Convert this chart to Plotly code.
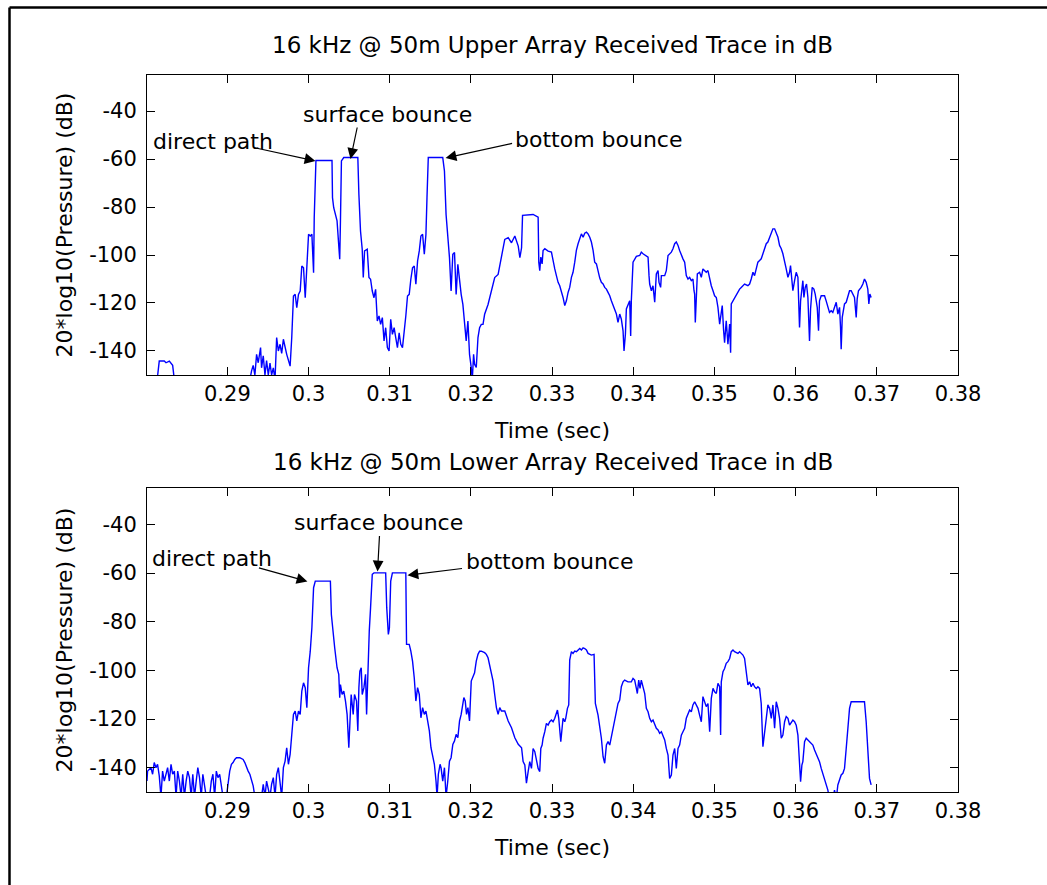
import plotly.graph_objects as go

# ---------------- data ----------------
upper_t = [0.2801, 0.28140, 0.28161, 0.28223, 0.28244, 0.28285, 0.28326, 0.28347,
    0.2890, 0.28926, 0.2895,
    0.29277, 0.29298, 0.29318, 0.29339, 0.29360, 0.29380, 0.29409, 0.29421, 0.29442, 0.29463,
    0.29483, 0.29504, 0.29525, 0.29545, 0.29566, 0.29587, 0.29607, 0.29628, 0.29649, 0.29669,
    0.29690, 0.29731, 0.29773, 0.29793, 0.29814, 0.29835, 0.29855, 0.29876, 0.29897, 0.29917,
    0.29938, 0.29959, 0.29979, 0.30000, 0.30021, 0.30041, 0.30062, 0.30070, 0.30091, 0.30289,
    0.30295, 0.30310, 0.30351, 0.30372, 0.30384, 0.30393, 0.30405, 0.30434, 0.30607, 0.30620,
    0.30640, 0.30661, 0.30674, 0.30690, 0.30723, 0.30744, 0.30764, 0.30785, 0.30806, 0.30826,
    0.30847, 0.30868, 0.30888, 0.30909, 0.30930, 0.30950, 0.30971, 0.30992, 0.31012, 0.31033,
    0.31054, 0.31074, 0.31095, 0.31116, 0.31136, 0.31157, 0.31178, 0.31198, 0.31219, 0.31240,
    0.31260, 0.31281, 0.31302, 0.31322, 0.31343, 0.31364, 0.31384, 0.31405, 0.31426, 0.31446,
    0.31459, 0.31475, 0.31653, 0.31674, 0.31694, 0.31715, 0.31736, 0.31756, 0.31777, 0.31798,
    0.31818, 0.31839, 0.31860, 0.31880, 0.31901, 0.31921, 0.31942, 0.31963, 0.31983, 0.32004,
    0.32017, 0.32033, 0.32045, 0.32066, 0.32087, 0.32107, 0.32128, 0.32149, 0.32169, 0.32211,
    0.32252, 0.32293, 0.32335, 0.32376, 0.32417, 0.32459, 0.32500, 0.32541, 0.32583, 0.32603,
    0.32624, 0.32636, 0.32766, 0.32828, 0.32836, 0.32848, 0.32861, 0.32877, 0.32889, 0.32910,
    0.32951, 0.32992, 0.33012, 0.33033, 0.33053, 0.33074, 0.33094, 0.33115, 0.33135, 0.33156,
    0.33176, 0.33197, 0.33217, 0.33238, 0.33258, 0.33279, 0.33299, 0.33320, 0.33341, 0.33361,
    0.33382, 0.33402, 0.33423, 0.33443, 0.33464, 0.33484, 0.33505, 0.33525, 0.33546, 0.33566,
    0.33587, 0.33607, 0.33628, 0.33648, 0.33669, 0.33689, 0.33710, 0.33730, 0.33751, 0.33771,
    0.33792, 0.33812, 0.33833, 0.33853, 0.33874, 0.33886, 0.33903, 0.33915, 0.33935, 0.33956,
    0.33968, 0.33976, 0.33997, 0.34017, 0.34038, 0.34079, 0.34099, 0.34120, 0.34161, 0.34182,
    0.34194, 0.34202, 0.34223, 0.34243, 0.34264, 0.34276, 0.34284, 0.34305, 0.34317, 0.34337,
    0.34346, 0.34387, 0.34407, 0.34428, 0.34469, 0.34489, 0.34510, 0.34530, 0.34551, 0.34571,
    0.34592, 0.34612, 0.34633, 0.34653, 0.34674, 0.34694, 0.34715, 0.34735, 0.34748, 0.34756,
    0.34764, 0.34776, 0.34789, 0.34817, 0.34838, 0.34858, 0.34879, 0.34899, 0.34920, 0.34941,
    0.34961, 0.34982, 0.35002, 0.35023, 0.35043, 0.35064, 0.35084, 0.35096, 0.35113, 0.35125,
    0.35145, 0.35166, 0.35187, 0.35199, 0.35207, 0.35248, 0.35289, 0.35310, 0.35330, 0.35371,
    0.35412, 0.35433, 0.35453, 0.35474, 0.35494, 0.35515, 0.35535, 0.35556, 0.35576, 0.35597,
    0.35617, 0.35638, 0.35658, 0.35679, 0.35700, 0.35720, 0.35741, 0.35761, 0.35782, 0.35802,
    0.35823, 0.35843, 0.35864, 0.35884, 0.35905, 0.35925, 0.35937, 0.35954, 0.35966, 0.35987,
    0.36007, 0.36028, 0.36036, 0.36048, 0.36061, 0.36077, 0.36089, 0.36102, 0.36118, 0.36134,
    0.36151, 0.36171, 0.36184, 0.36204, 0.36225, 0.36241, 0.36266, 0.36282, 0.36294, 0.36315,
    0.36356, 0.36376, 0.36397, 0.36417, 0.36438, 0.36458, 0.36479, 0.36500, 0.36520, 0.36541,
    0.36553, 0.36561, 0.36574, 0.36590, 0.36602, 0.36623, 0.36643, 0.36664, 0.36684, 0.36705,
    0.36725, 0.36746, 0.36758, 0.36774, 0.36807, 0.36828, 0.36848, 0.36869, 0.36889, 0.36902,
    0.36914, 0.36930]
upper_db = [-155, -150.5, -144.2, -144.2, -144.9, -144.2, -146, -152,
    -155, -150, -155,
    -152, -148.3, -146, -150, -141.4, -144.9, -138.6, -147, -142, -150,
    -144, -150, -145, -150, -147, -152, -134.4, -140, -137.2, -141,
    -135.1, -141.4, -146.3, -134.4, -117.1, -116.4, -121.9, -116.4, -115, -104.6,
    -105.3, -117.8, -105.3, -91.4, -92.1, -91.4, -107.4, -84.4, -60.6, -60.6,
    -76.1, -80.3, -85.8, -98.3, -101.8, -85.8, -60.8, -59.4, -59.4, -74.7,
    -90, -97.6, -109.4, -98.3, -97.6, -109.4, -110.1, -115, -117.8, -114.3,
    -127.5, -125.4, -128.9, -126.1, -135.8, -130.3, -138.6, -140, -126.8, -133.1,
    -130.3, -134.4, -138.6, -132.4, -137.2, -138.6, -133.1, -125.4, -117.1, -116.4,
    -110.1, -105.3, -104.6, -112.2, -102.5, -98.3, -92.1, -91.4, -99.7, -91.4,
    -76.1, -59.4, -59.4, -65, -83.1, -91.4, -101.1, -115, -99.7, -99,
    -116.4, -103.9, -110.8, -116.4, -120.6, -128.9, -135.8, -127.5, -141.4, -146.9,
    -152, -141.4, -145.5, -146.9, -134.4, -130.3, -128.9, -128.9, -124.7, -120.6,
    -115, -109.4, -108.1, -101.1, -93.5, -92.8, -94.9, -92.1, -96.3, -101.1,
    -97, -83.5, -83.1, -84.2, -103, -106.5, -100.9, -103.7, -98.1, -97.4,
    -98.4, -98.8, -103, -105.8, -108.6, -111.4, -112.8, -114.9, -117.7, -121.1,
    -119.1, -115.6, -113.5, -109.3, -107.2, -103, -98.1, -95.3, -92.6, -91.2,
    -92.6, -90.9, -90.5, -91.2, -92.6, -94.6, -98.1, -103, -103.7, -107.2,
    -109.6, -111.4, -112.1, -113.5, -114.2, -115.6, -117, -119.1, -121.1, -122.5,
    -124.6, -128.1, -124.6, -126.7, -131.6, -140, -133, -122.5, -120.4, -119.1,
    -133.7, -119.1, -103, -101.6, -100.6, -100.2, -98.8, -99.5, -100.2, -100.9,
    -108.6, -112.1, -114.9, -112.8, -119.7, -112.1, -107.9, -106.5, -111.4, -113.5,
    -108.6, -108.6, -106.5, -100.2, -98.8, -97.4, -95.3, -94.6, -96, -98.1,
    -100.2, -101.6, -103, -108.6, -110, -109.3, -110.7, -110, -114.9, -116.3,
    -128.1, -120.4, -107.9, -107.2, -109.3, -105.8, -106.5, -107.2, -106.5, -110,
    -112.8, -114.9, -117, -117.7, -121.8, -128.8, -122.5, -121.1, -131.6, -136.5,
    -127.4, -137.2, -128.8, -140.7, -120.4, -117.7, -114.9, -114.2, -113.5, -112.1,
    -112.8, -112.1, -110, -107.2, -108.6, -105.8, -103, -102.3, -101.6, -99.5,
    -97.4, -95.3, -94.6, -92.6, -90.5, -89.1, -89.1, -90.5, -92.6, -96,
    -97.4, -99.5, -102.3, -105.8, -109.3, -107.2, -104.4, -109.3, -114.9, -110.7,
    -107.2, -109.3, -119.1, -130.2, -119.1, -113.5, -110.7, -117.7, -113.5, -112.1,
    -117.7, -135.8, -122.5, -113.5, -114.2, -116.3, -121.8, -131.6, -119.1, -117,
    -117, -119.1, -121.8, -123.9, -123.2, -123.9, -121.8, -119.7, -124.6, -121.8,
    -130.2, -139.3, -126, -122.5, -120.4, -119.7, -117.7, -114.9, -114.9, -116.3,
    -117.7, -126, -118.4, -114.9, -113.5, -112.1, -110, -111.4, -114.2, -120.4,
    -116.3, -117.7]

lower_t = [0.2801, 0.28017, 0.28058, 0.28079, 0.28099, 0.28120, 0.28140, 0.28161, 0.28182, 0.28202,
    0.28223, 0.28244, 0.28264, 0.28285, 0.28306, 0.28326, 0.28347, 0.28368, 0.28388, 0.28409,
    0.28430, 0.28450, 0.28471, 0.28492, 0.28512, 0.28533, 0.28554, 0.28574, 0.28595, 0.28616,
    0.28636, 0.28657, 0.28678, 0.28698, 0.28719, 0.28740, 0.28781, 0.28802, 0.28822, 0.28843,
    0.28864, 0.28884, 0.28905, 0.28926, 0.28946, 0.28988, 0.29008, 0.29029, 0.29050, 0.29070,
    0.29091, 0.29112, 0.29153, 0.29194, 0.29215, 0.29236, 0.29256, 0.29277, 0.29298, 0.29318,
    0.29339, 0.29421, 0.29442, 0.29463, 0.29483, 0.29504, 0.29525, 0.29545, 0.29566, 0.29587,
    0.29607, 0.29628, 0.29649, 0.29669, 0.29690, 0.29711, 0.29731, 0.29752, 0.29773, 0.29793,
    0.29814, 0.29835, 0.29855, 0.29876, 0.29897, 0.29917, 0.29938, 0.29959, 0.29979, 0.30000,
    0.30021, 0.30041, 0.30062, 0.30083, 0.30269, 0.30281, 0.30302, 0.30322, 0.30351, 0.30372,
    0.30384, 0.30393, 0.30413, 0.30434, 0.30455, 0.30475, 0.30496, 0.30508, 0.30525, 0.30550,
    0.30566, 0.30591, 0.30607, 0.30620, 0.30632, 0.30649, 0.30661, 0.30682, 0.30702, 0.30715,
    0.30731, 0.30748, 0.30764, 0.30785, 0.30806, 0.30950, 0.30963, 0.30983, 0.30996, 0.31012,
    0.31033, 0.31198, 0.31207, 0.31240, 0.31260, 0.31281, 0.31302, 0.31322, 0.31343, 0.31364,
    0.31384, 0.31405, 0.31426, 0.31446, 0.31467, 0.31488, 0.31508, 0.31529, 0.31550, 0.31570,
    0.31583, 0.31599, 0.31620, 0.31632, 0.31653, 0.31674, 0.31694, 0.31715, 0.31736, 0.31756,
    0.31777, 0.31798, 0.31818, 0.31839, 0.31860, 0.31880, 0.31901, 0.31913, 0.31930, 0.31946,
    0.31963, 0.31983, 0.32004, 0.32025, 0.32045, 0.32066, 0.32087, 0.32107, 0.32128, 0.32169,
    0.32190, 0.32211, 0.32231, 0.32252, 0.32273, 0.32293, 0.32314, 0.32335, 0.32355, 0.32376,
    0.32417, 0.32459, 0.32500, 0.32541, 0.32583, 0.32624, 0.32643, 0.32664, 0.32684, 0.32705,
    0.32725, 0.32746, 0.32766, 0.32787, 0.32807, 0.32828, 0.32848, 0.32861, 0.32877, 0.32889,
    0.32910, 0.32930, 0.32951, 0.32971, 0.32992, 0.33012, 0.33033, 0.33053, 0.33066, 0.33082,
    0.33094, 0.33107, 0.33123, 0.33135, 0.33156, 0.33168, 0.33189, 0.33205, 0.33217, 0.33238,
    0.33258, 0.33279, 0.33299, 0.33320, 0.33341, 0.33361, 0.33382, 0.33402, 0.33423, 0.33443,
    0.33484, 0.33517, 0.33533, 0.33566, 0.33587, 0.33607, 0.33628, 0.33648, 0.33669, 0.33689,
    0.33710, 0.33730, 0.33751, 0.33771, 0.33792, 0.33812, 0.33833, 0.33853, 0.33874, 0.33894,
    0.33935, 0.33976, 0.33997, 0.34017, 0.34038, 0.34050, 0.34067, 0.34083, 0.34099, 0.34120,
    0.34141, 0.34161, 0.34182, 0.34202, 0.34223, 0.34243, 0.34264, 0.34284, 0.34305, 0.34325,
    0.34346, 0.34366, 0.34387, 0.34407, 0.34428, 0.34448, 0.34469, 0.34489, 0.34510, 0.34530,
    0.34551, 0.34571, 0.34592, 0.34612, 0.34633, 0.34653, 0.34674, 0.34694, 0.34715, 0.34735,
    0.34756, 0.34776, 0.34797, 0.34817, 0.34838, 0.34858, 0.34879, 0.34899, 0.34920, 0.34941,
    0.34961, 0.34982, 0.35002, 0.35023, 0.35043, 0.35064, 0.35076, 0.35084, 0.35105, 0.35125,
    0.35145, 0.35166, 0.35187, 0.35207, 0.35228, 0.35248, 0.35289, 0.35310, 0.35330, 0.35351,
    0.35371, 0.35392, 0.35412, 0.35433, 0.35453, 0.35474, 0.35494, 0.35515, 0.35535, 0.35556,
    0.35576, 0.35597, 0.35617, 0.35638, 0.35658, 0.35679, 0.35700, 0.35720, 0.35741, 0.35761,
    0.35782, 0.35802, 0.35823, 0.35843, 0.35864, 0.35884, 0.35905, 0.35925, 0.35946, 0.35966,
    0.35987, 0.36007, 0.36028, 0.36048, 0.36061, 0.36077, 0.36089, 0.36110, 0.36130, 0.36151,
    0.36171, 0.36192, 0.36212, 0.36233, 0.36253, 0.36274, 0.36294, 0.36315, 0.36335, 0.36356,
    0.36376, 0.36397, 0.36417, 0.36458, 0.36479, 0.36500, 0.36520, 0.36541, 0.36561, 0.36582,
    0.36602, 0.36623, 0.36643, 0.36664, 0.36684, 0.36848, 0.36869, 0.36889, 0.36910, 0.36930]
lower_db = [-145.5, -141.4, -140, -142.7, -137.9, -140, -138.6, -143.4, -152, -141.4,
    -145.5, -142.7, -140, -145.5, -138.6, -142.7, -141.4, -152, -141.4, -145.5,
    -152, -142.7, -152, -145.5, -141.4, -144.1, -152, -142.7, -152, -145.5,
    -140, -144.1, -152, -142.7, -148.2, -152, -152, -145.5, -142.7, -152,
    -141.4, -144.1, -142.7, -146.8, -152, -152, -145.5, -141.4, -138.6, -137.9,
    -136.6, -135.9, -135.9, -136.6, -137.9, -140, -141.4, -142.7, -145.5, -147.5,
    -152, -152, -146.8, -152, -145.5, -148.2, -152, -146.8, -144.1, -152,
    -142.7, -140, -145.5, -152, -140, -137.3, -131.8, -138.6, -134.5, -127.7,
    -118.1, -116.7, -120.8, -116.7, -118.1, -108.5, -105.1, -107.1, -115.3, -98.9,
    -92.1, -82.5, -66, -63.3, -63.3, -77, -85.2, -90.7, -98.9, -101.6,
    -111.2, -105.8, -109.9, -108.5, -112.6, -118.1, -131.8, -119.5, -109.9, -118.1,
    -109.9, -112.6, -124.9, -107.1, -100.3, -98.9, -109.9, -107.1, -101.6, -118.1,
    -96.2, -83.8, -74.2, -60.5, -59.9, -59.9, -74.2, -85.2, -82.5, -63.3,
    -59.9, -59.9, -89.3, -89.3, -92.1, -96.2, -103, -112.6, -107.1, -109.9,
    -119.5, -115.3, -118.1, -116.7, -120.8, -124.9, -131.8, -135.9, -138.6, -145.5,
    -152, -142.7, -138.6, -140, -145.5, -140, -152, -145.5, -137.3, -135.9,
    -130.4, -129, -126.3, -127.7, -120.8, -118.1, -114, -111.2, -112.6, -118.1,
    -115.3, -120.8, -104.4, -103, -101, -96.2, -93.4, -92.1, -92.1, -92.7,
    -93.4, -94.8, -97.5, -100.3, -104.4, -109.9, -115.3, -118.1, -115.3, -116.7,
    -116.7, -120.8, -123.6, -127.7, -130.4, -131.8, -137.5, -138.9, -146.4, -141.6,
    -137.5, -140.3, -132.1, -133.4, -137.5, -140.3, -141.6, -132.1, -130.7, -127.9,
    -125.2, -121.8, -122.5, -121.1, -120.4, -121.1, -119.7, -117, -116.3, -119.7,
    -125.2, -129.3, -123.8, -119.7, -121.1, -119.7, -115.6, -114.2, -95.8, -92.3,
    -93, -92.1, -92.3, -91.6, -91, -91.6, -90.7, -91, -91.6, -93,
    -93.7, -93.4, -113.6, -118.4, -122.5, -127.9, -135.5, -138.2, -130.7, -129.3,
    -130.7, -127.3, -123.8, -121.1, -118.4, -113.6, -112.2, -106.7, -104.7, -104,
    -104.7, -104.7, -103.3, -104, -107.4, -109.5, -104, -107.4, -104, -107.4,
    -109.5, -115.6, -117, -119.7, -121.1, -120.4, -121.8, -123.8, -124.5, -125.9,
    -125.2, -126.6, -128.6, -132.1, -134.8, -144.4, -143, -134.8, -132.1, -140.3,
    -132.1, -130.7, -126.6, -125.2, -123.8, -119.7, -117.7, -116.3, -117, -114.2,
    -112.9, -114.2, -115.6, -118.4, -121.1, -110.8, -112.9, -114.9, -113.6, -125.2,
    -111.5, -107.4, -108.8, -109.5, -105.3, -106.7, -126.6, -104.7, -100.5, -99.2,
    -97.1, -96.4, -95.1, -92.3, -91.6, -92.3, -93, -92.3, -93, -93.7,
    -95.1, -100.5, -106, -104.7, -106.7, -105.3, -106.7, -107.4, -106.7, -107.4,
    -113.6, -131.4, -125.2, -121.1, -114.2, -115.6, -119.7, -114.2, -123.8, -112.9,
    -115.6, -119.7, -127.9, -126.6, -121.1, -119, -119.7, -122.5, -121.1, -120.4,
    -121.1, -122.5, -126.6, -136.2, -145.8, -138.9, -137.5, -129.3, -127.9, -128.6,
    -129.3, -130, -130.7, -132.7, -134.1, -136.2, -137.5, -140.3, -142.3, -144.4,
    -147.1, -149.2, -153, -153, -149.2, -153, -147.1, -144.4, -143, -142.3,
    -140.3, -132.1, -125.2, -115.6, -112.9, -112.9, -121.1, -132.1, -144.4, -147.1]

x_tickvals = [0.29, 0.30, 0.31, 0.32, 0.33, 0.34, 0.35, 0.36, 0.37, 0.38]
x_ticktext = ["0.29", "0.3", "0.31", "0.32", "0.33", "0.34", "0.35", "0.36", "0.37", "0.38"]
y_tickvals = [-140, -120, -100, -80, -60, -40]
y_ticktext = ["-140", "-120", "-100", "-80", "-60", "-40"]
x_range = [0.2801, 0.38]
y_range = [-150, -25]

titles = ["16 kHz @ 50m Upper Array Received Trace in dB",
          "16 kHz @ 50m Lower Array Received Trace in dB"]
x_title = "Time (sec)"
y_title = "20*log10(Pressure) (dB)"

# annotation arrows: (label, head time, head dB, text time, text dB)
upper_notes = [("direct path", 0.30085, -60.8, 0.28827, -52.5),
               ("surface bounce", 0.30517, -60.0, 0.30973, -41.3),
               ("bottom bounce", 0.31688, -59.6, 0.33575, -51.7)]
lower_notes = [("direct path", 0.29986, -63.4, 0.28815, -53.9),
               ("surface bounce", 0.30850, -59.3, 0.30862, -39.2),
               ("bottom bounce", 0.31219, -60.9, 0.32970, -55.2)]
upper_tails = [(-60, -13), (7, -33), (68, -15)]
lower_tails = [(-50, -14), (2, -37), (56, -7)]

# ---------------- figure ----------------
FONT = "DejaVu Sans"
fig = go.Figure()
fig.add_trace(go.Scatter(x=upper_t, y=upper_db, mode="lines",
                         line=dict(color="#0000FF", width=1.4), xaxis="x", yaxis="y",
                         showlegend=False))
fig.add_trace(go.Scatter(x=lower_t, y=lower_db, mode="lines",
                         line=dict(color="#0000FF", width=1.4), xaxis="x2", yaxis="y2",
                         showlegend=False))

common_x = dict(range=x_range, tickvals=x_tickvals, ticktext=x_ticktext,
                ticks="inside", ticklen=8, tickcolor="black", showline=True,
                linecolor="black", linewidth=1, mirror="ticks", showgrid=False,
                zeroline=False, tickfont=dict(family=FONT, size=21, color="black"),
                title=dict(text=x_title, font=dict(family=FONT, size=22, color="black"),
                           standoff=17),
                automargin=False)
common_y = dict(range=y_range, tickvals=y_tickvals, ticktext=y_ticktext,
                ticks="inside", ticklen=8, tickcolor="black", showline=True,
                linecolor="black", linewidth=1, mirror="ticks", showgrid=False,
                zeroline=False, tickfont=dict(family=FONT, size=21, color="black"),
                ticklabelstandoff=5,
                title=dict(text=y_title, font=dict(family=FONT, size=22, color="black"),
                           standoff=10),
                automargin=False)

fig.update_layout(
    width=1047, height=885,
    margin=dict(l=147, r=89, t=75, b=93),
    paper_bgcolor="white", plot_bgcolor="white",
    font=dict(family=FONT, color="black"),
    xaxis=dict(domain=[0, 1], anchor="y", **common_x),
    yaxis=dict(domain=[0.5816, 1], anchor="x", **common_y),
    xaxis2=dict(domain=[0, 1], anchor="y2", **common_x),
    yaxis2=dict(domain=[0, 0.424], anchor="x2", **common_y),
)

annotations = []
annotations.append(dict(text=titles[0], xref="paper", yref="paper", x=0.5, y=1.0,
                        yanchor="middle", yshift=30, showarrow=False,
                        font=dict(family=FONT, size=23, color="black")))
annotations.append(dict(text=titles[1], xref="paper", yref="paper", x=0.5, y=0.424,
                        yanchor="middle", yshift=26, showarrow=False,
                        font=dict(family=FONT, size=23, color="black")))

for notes, tails, xr, yr in ((upper_notes, upper_tails, "x", "y"),
                             (lower_notes, lower_tails, "x2", "y2")):
    for (label, hx, hy, tx, ty), (ax, ay) in zip(notes, tails):
        annotations.append(dict(text="", x=hx, y=hy, xref=xr, yref=yr, ax=ax, ay=ay,
                                showarrow=True, arrowhead=2, arrowsize=1.8,
                                arrowwidth=1.2, arrowcolor="black"))
        annotations.append(dict(text=label, x=tx, y=ty, xref=xr, yref=yr,
                                showarrow=False,
                                font=dict(family=FONT, size=22, color="black")))
fig.update_layout(annotations=annotations)

# outer frame (left and top edges visible in the reference)
px_l = (9.5 - 147) / 811
py_t = (792 - 7.5) / 717
fig.update_layout(shapes=[
    dict(type="line", xref="paper", yref="paper", x0=px_l, x1=px_l, y0=-0.2, y1=py_t,
         line=dict(color="black", width=2.5)),
    dict(type="line", xref="paper", yref="paper", x0=px_l, x1=1.2, y0=py_t, y1=py_t,
         line=dict(color="black", width=2.5)),
])

fig.write_html("out.html", config={"displayModeBar": False},
               post_script="document.body.style.margin='0';document.body.style.overflow='hidden';")
